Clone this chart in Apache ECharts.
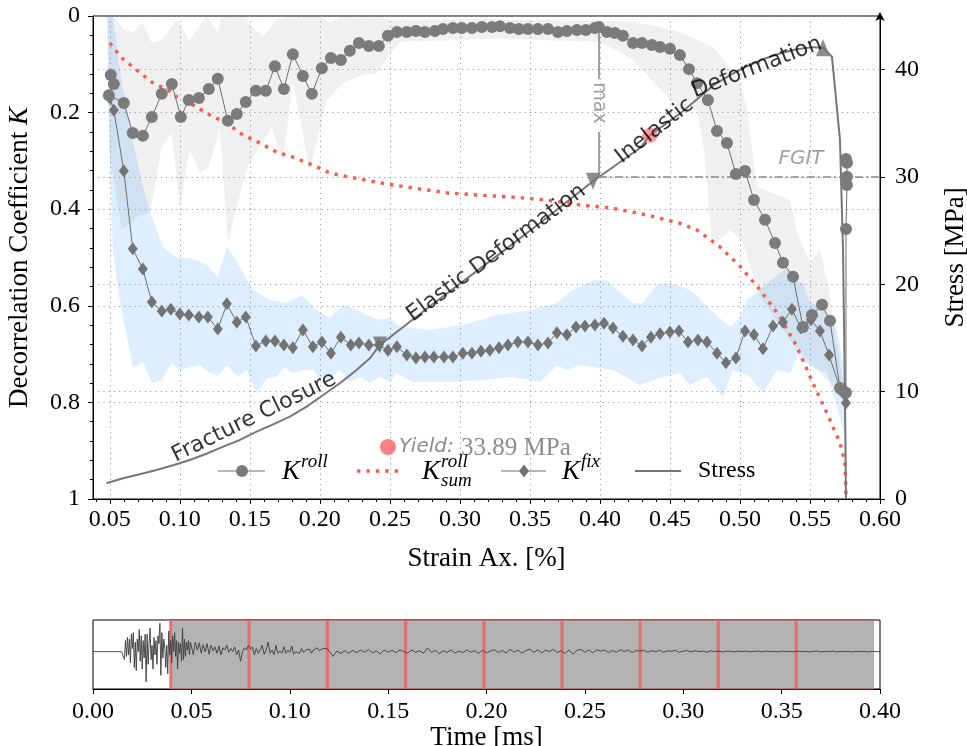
<!DOCTYPE html>
<html>
<head>
<meta charset="utf-8">
<script src="https://cdn.jsdelivr.net/npm/echarts@6/dist/echarts.min.js"></script>
<style>
  html, body { margin: 0; padding: 0; background: #fff; }
  #chart { width: 967px; height: 746px; }
</style>
</head>
<body>
<div id="chart"></div>
<script>
// ---------- K^roll (rolling-window decorrelation) ----------
const rollStrain = [
  0.0507,0.0529,0.0493,0.0600,0.0664,0.0736,0.0800,0.0871,0.0943,0.1007,
  0.1064,0.1136,0.1207,0.1271,0.1343,0.1407,0.1471,0.1543,0.1614,0.1679,
  0.1743,0.1807,0.1879,0.1943,0.2014,0.2079,0.2150,0.2214,0.2279,0.2350,
  0.2421,0.2486,0.2550,0.2621,0.2686,0.2750,0.2821,0.2879,0.2950,0.3014,
  0.3086,0.3157,0.3229,0.3286,0.3357,0.3421,0.3486,0.3557,0.3629,0.3700,
  0.3764,0.3836,0.3900,0.3964,0.3993,0.4050,0.4107,0.4164,0.4236,0.4300,
  0.4371,0.4429,0.4500,0.4571,0.4636,0.4693,0.4771,0.4836,0.4907,0.4971,
  0.5036,0.5100,0.5179,0.5250,0.5307,0.5379,0.5450,0.5514,0.5586,0.5643,
  0.5714,0.5736,0.5757,0.5757,0.5764,0.5764,0.5764,0.5757
];
const rollK = [
  0.122,0.141,0.164,0.180,0.242,0.248,0.209,0.161,0.141,0.209,
  0.174,0.170,0.151,0.130,0.217,0.203,0.178,0.155,0.155,0.104,
  0.151,0.079,0.124,0.161,0.108,0.087,0.091,0.072,0.056,0.062,
  0.062,0.041,0.033,0.033,0.031,0.033,0.031,0.027,0.025,0.025,
  0.025,0.023,0.023,0.021,0.025,0.027,0.027,0.027,0.027,0.033,
  0.031,0.029,0.029,0.025,0.023,0.033,0.035,0.041,0.056,0.056,
  0.060,0.064,0.068,0.081,0.110,0.139,0.174,0.238,0.263,0.327,
  0.321,0.381,0.422,0.470,0.511,0.540,0.644,0.619,0.598,0.631,
  0.770,0.776,0.780,0.441,0.350,0.333,0.304,0.296
];

// ---------- K^fix (fixed reference decorrelation) ----------
const fixStrain = [
  0.0500,0.0529,0.0600,0.0664,0.0736,0.0800,0.0871,0.0936,0.1000,0.1064,
  0.1136,0.1200,0.1271,0.1336,0.1407,0.1471,0.1543,0.1614,0.1679,0.1743,
  0.1807,0.1879,0.1950,0.2014,0.2079,0.2150,0.2221,0.2279,0.2350,0.2421,
  0.2486,0.2550,0.2621,0.2686,0.2750,0.2814,0.2886,0.2950,0.3021,0.3086,
  0.3150,0.3214,0.3279,0.3343,0.3414,0.3486,0.3557,0.3629,0.3693,0.3764,
  0.3829,0.3893,0.3964,0.4029,0.4093,0.4164,0.4236,0.4300,0.4364,0.4429,
  0.4500,0.4564,0.4629,0.4700,0.4764,0.4836,0.4900,0.4971,0.5036,0.5100,
  0.5164,0.5236,0.5307,0.5371,0.5436,0.5507,0.5571,0.5636,0.5714,0.5750,
  0.5757
];
const fixK = [
  0.170,0.195,0.321,0.482,0.524,0.592,0.611,0.607,0.617,0.619,
  0.623,0.623,0.648,0.596,0.634,0.623,0.683,0.673,0.673,0.681,
  0.687,0.650,0.685,0.675,0.698,0.665,0.681,0.677,0.681,0.681,
  0.692,0.685,0.702,0.708,0.706,0.706,0.706,0.706,0.698,0.698,
  0.694,0.692,0.687,0.681,0.675,0.675,0.681,0.677,0.656,0.660,
  0.644,0.642,0.640,0.636,0.646,0.663,0.671,0.683,0.665,0.658,
  0.654,0.652,0.675,0.671,0.675,0.698,0.718,0.708,0.652,0.660,
  0.689,0.642,0.634,0.607,0.646,0.629,0.652,0.702,0.770,0.785,
  0.801
];

// ---------- K_sum^roll (cumulative rolling decorrelation) ----------
const sumStrain = [
  0.0500,0.0586,0.0693,0.0800,0.0914,0.0971,0.1093,0.1214,0.1336,0.1450,
  0.1571,0.1693,0.1807,0.1943,0.2071,0.2200,0.2336,0.2479,0.2664,0.2907,
  0.3143,0.3379,0.3621,0.3857,0.4093,0.4336,0.4571,0.4693,0.4857,0.5000,
  0.5143,0.5286,0.5407,0.5521,0.5621,0.5714,0.5750,0.5757,0.5757
];
const sumK = [
  0.056,0.087,0.112,0.137,0.153,0.166,0.184,0.205,0.222,0.246,
  0.263,0.282,0.292,0.308,0.325,0.333,0.340,0.348,0.356,0.366,
  0.371,0.375,0.381,0.391,0.398,0.412,0.429,0.443,0.478,0.518,
  0.567,0.623,0.685,0.760,0.822,0.884,0.925,0.981,1.000
];

// ---------- axial stress vs. strain ----------
const stressStrain = [
  0.0476,0.0595,0.0714,0.0833,0.0952,0.1071,0.1190,0.1310,0.1429,0.1548,
  0.1667,0.1786,0.1905,0.2024,0.2143,0.2262,0.2357,0.2429,0.2800,0.3300,
  0.3600,0.3950,0.3993,0.4286,0.4357,0.4571,0.4689,0.4807,0.4929,0.5050,
  0.5168,0.5286,0.5404,0.5521,0.5593,0.5657,0.5714,0.5736,0.5750,0.5757
];
const stressMPa = [
  1.46,1.93,2.30,2.70,3.14,3.63,4.22,4.88,5.50,6.27,
  6.96,7.67,8.60,9.69,10.78,12.02,13.11,14.35,18.1,23.0,
  26.0,29.6,30.0,32.7,33.89,35.9,37.2,38.5,39.5,40.3,
  41.0,41.5,41.9,42.1,42.05,41.2,33.5,23.2,9.2,0
];

// stage boundaries on the stress curve (fracture closure, elastic, inelastic)
const stageStrain = [0.2429, 0.3950, 0.5593];
const stageStress = [14.35, 29.6, 42.05];

// yield point and FGIT level
const yieldStrain = 0.4357;
const yieldStress = 33.89;
const fgitStress = 30;
const peakKStrain = 0.3993;

// ---------- scatter bands (spread of K^roll and K^fix) ----------
const grayUpX = [
  0.0486,0.0536,0.0607,0.0664,0.0736,0.0800,0.0871,0.0979,0.1071,0.1193,
  0.1271,0.1300,0.1479,0.1486,0.1593,0.1693,0.1786,0.2000,0.2071,0.2164,
  0.2286,0.2407,0.2500,0.2714,0.3143,0.3571,0.4000,0.4236,0.4429,0.4571,
  0.4807,0.5000,0.5050,0.5121,0.5357,0.5407,0.5500,0.5571,0.5629,0.5714,
  0.5750
];
const grayUpK = [
  0.000,0.004,0.029,0.033,0.014,0.056,0.050,0.008,0.050,0.000,
  0.035,0.000,0.000,0.014,0.043,0.008,0.000,0.002,0.014,0.000,
  0.004,0.002,0.008,0.008,0.006,0.008,0.010,0.012,0.023,0.033,
  0.064,0.133,0.195,0.354,0.381,0.449,0.511,0.484,0.557,0.718,
  0.774
];
const grayLoX = [
  0.0493,0.0586,0.0714,0.0786,0.0871,0.0943,0.1000,0.1071,0.1143,0.1207,
  0.1286,0.1343,0.1479,0.1657,0.1736,0.1807,0.1929,0.2050,0.2164,0.2307,
  0.2407,0.2500,0.2571,0.2929,0.3286,0.3643,0.4000,0.4143,0.4236,0.4571,
  0.4693,0.4750,0.4800,0.4929,0.5021,0.5143,0.5193,0.5357,0.5500,0.5621,
  0.5714,0.5750
];
const grayLoK = [
  0.277,0.443,0.412,0.408,0.271,0.242,0.395,0.277,0.325,0.313,
  0.230,0.470,0.313,0.230,0.298,0.137,0.319,0.174,0.139,0.122,
  0.118,0.077,0.054,0.050,0.046,0.050,0.054,0.075,0.091,0.195,
  0.195,0.292,0.478,0.443,0.470,0.582,0.602,0.671,0.718,0.754,
  0.774,0.778
];
const blueUpX = [
  0.0479,0.0521,0.0586,0.0664,0.0736,0.0800,0.0879,0.0929,0.0979,0.1071,
  0.1200,0.1271,0.1336,0.1407,0.1521,0.1643,0.1764,0.1871,0.1979,0.2071,
  0.2164,0.2264,0.2407,0.2500,0.2571,0.2786,0.3021,0.3264,0.3500,0.3693,
  0.3807,0.3950,0.4050,0.4143,0.4236,0.4307,0.4407,0.4500,0.4643,0.4807,
  0.4929,0.4986,0.5050,0.5164,0.5286,0.5336,0.5379,0.5450,0.5500,0.5593,
  0.5693,0.5736,0.5764
];
const blueUpK = [
  0.000,0.002,0.139,0.257,0.354,0.416,0.478,0.491,0.499,0.501,
  0.516,0.542,0.478,0.509,0.567,0.588,0.594,0.578,0.609,0.625,
  0.598,0.609,0.629,0.625,0.644,0.650,0.640,0.619,0.609,0.594,
  0.567,0.547,0.547,0.573,0.594,0.594,0.557,0.553,0.567,0.613,
  0.644,0.629,0.588,0.561,0.532,0.522,0.547,0.553,0.594,0.602,
  0.650,0.718,0.913
];
const blueLoX = [
  0.0500,0.0521,0.0571,0.0664,0.0736,0.0800,0.0871,0.0943,0.1000,0.1071,
  0.1143,0.1200,0.1271,0.1336,0.1414,0.1479,0.1550,0.1621,0.1693,0.1750,
  0.1807,0.1879,0.1950,0.2021,0.2071,0.2143,0.2214,0.2286,0.2357,0.2429,
  0.2500,0.2550,0.2664,0.2907,0.3143,0.3379,0.3571,0.3693,0.3764,0.3857,
  0.4093,0.4286,0.4450,0.4571,0.4643,0.4764,0.4879,0.4950,0.5071,0.5164,
  0.5264,0.5357,0.5407,0.5521,0.5621,0.5714,0.5750
];
const blueLoK = [
  0.277,0.484,0.588,0.727,0.716,0.760,0.754,0.718,0.733,0.727,
  0.723,0.737,0.745,0.723,0.747,0.733,0.781,0.750,0.747,0.727,
  0.739,0.733,0.733,0.758,0.750,0.733,0.758,0.747,0.760,0.747,
  0.758,0.739,0.758,0.758,0.754,0.747,0.758,0.723,0.733,0.723,
  0.733,0.764,0.747,0.739,0.764,0.747,0.789,0.733,0.747,0.781,
  0.733,0.739,0.706,0.727,0.739,0.830,0.872
];

// ---------- tick labels ----------
const strainTicks = [0.05,0.10,0.15,0.20,0.25,0.30,0.35,0.40,0.45,0.50,0.55,0.60];
const strainMinorTicks = [
  0.04,0.06,0.07,0.08,0.09,0.11,0.12,0.13,0.14,0.16,0.17,0.18,0.19,
  0.21,0.22,0.23,0.24,0.26,0.27,0.28,0.29,0.31,0.32,0.33,0.34,
  0.36,0.37,0.38,0.39,0.41,0.42,0.43,0.44,0.46,0.47,0.48,0.49,
  0.51,0.52,0.53,0.54,0.56,0.57,0.58,0.59
];
const stressTicks = [0, 10, 20, 30, 40];

// ---------- ultrasonic waveform (relative amplitude) ----------
const waveQuietTime = [0.000, 0.0145];
const waveQuietAmp = [0, 0];
// 0.0150 .. 0.0495 ms, every 0.0005 ms
const waveDense = [
  0, 0.05, -0.25, 0.35, -0.15, 0.45, -0.1, 0.4, -0.35, 0.55,
  0.1, 0.6, -0.5, 0.3, -0.6, 0.4, 0.0, 0.7, -0.3, 0.5,
  -0.55, 0.35, -0.2, 0.55, -0.95, 0.55, -0.4, 0.25, 0.75, -0.25,
  0.2, -0.55, 0.45, -0.1, 0.35, -0.4, 0.5, 0.25, 0.9, -0.75,
  0.6, -0.2, 0.4, 0.1, -0.5, 0.2, -0.7, 0.65, -0.1, 0.35,
  -0.35, 0.5, 0.0, 0.6, -0.15, 0.35, -0.55, 0.3, -0.05, 0.25,
  -0.3, 0.74, -0.25, 0.4, -0.15, 0.3, 0.05, 0.35, -0.1, 0.3
];
// 0.050 .. 0.119 ms, every 0.001 ms
const waveMid = [
  0.25, -0.1, 0.3, 0.05, 0.28, -0.05, 0.22, 0.0, 0.25, -0.08,
  0.2, 0.02, 0.15, -0.05, 0.18, -0.1, 0.12, 0.05, 0.2, -0.02,
  0.1, 0.0, 0.15, -0.1, 0.05, -0.3, 0.0, 0.12, 0.05, 0.2,
  0.08, 0.15, -0.1, 0.1, -0.05, 0.05, 0.2, -0.08, 0.05, 0.3,
  -0.05, 0.05, -0.1, 0.2, -0.05, 0.02, -0.05, 0.15, -0.05, 0.05,
  -0.02, 0.18, -0.08, 0.0, 0.05, -0.05, 0.1, -0.02, 0.05, 0.0,
  0.08, -0.05, 0.05, 0.0, 0.12, 0.03, 0.08, 0.1, 0.05, 0.1
];
// 0.120 .. 0.400 ms, every 0.002 ms
const waveTail = [
  0.10, -0.15, 0.02, -0.06, 0.03, -0.05, 0.04, -0.03, 0.05, -0.02,
  0.06, -0.04, 0.02, -0.07, 0.05, -0.02, 0.04, -0.03, 0.06, 0.00,
  -0.04, 0.05, -0.02, 0.03, -0.05, 0.12, -0.03, 0.04, -0.06, 0.03,
  -0.02, 0.05, -0.04, 0.02, -0.03, 0.05, -0.02, 0.03, -0.05, 0.04,
  -0.03, 0.02, 0.06, -0.03, 0.04, -0.04, 0.07, -0.02, 0.05, -0.05,
  0.03, 0.08, -0.03, 0.06, -0.04, 0.05, 0.00, 0.07, -0.03, 0.03,
  -0.06, 0.05, -0.08, 0.04, 0.07, -0.02, 0.05, -0.04, 0.06, 0.02,
  0.05, -0.03, 0.04, -0.02, 0.06, 0.01, 0.05, -0.03, 0.03, 0.02,
  0.04, -0.02, 0.03, 0.00, 0.04, -0.02, 0.03, 0.01, 0.04, -0.02,
  0.02, 0.03, -0.01, 0.03, 0.00, 0.02, -0.02, 0.03, 0.00, 0.02,
  -0.01, 0.02, 0.01, -0.01, 0.02, 0.00, 0.02, -0.01, 0.01, 0.02,
  -0.01, 0.02, 0.00, 0.01, -0.01, 0.02, 0.00, 0.01, -0.01, 0.02,
  0.00, 0.01, -0.01, 0.01, 0.02, -0.01, 0.01, 0.00, 0.02, -0.01,
  0.01, 0.00, 0.01, -0.01, 0.01, 0.00, 0.01, -0.01, 0.01, 0.00,
  0.00
];

// analysis windows along the waveform [ms]
const windowStart = [0.0395, 0.0793, 0.1191, 0.1589, 0.1987, 0.2384, 0.2781, 0.3178, 0.3574];
const windowEnd   = [0.0793, 0.1191, 0.1589, 0.1987, 0.2384, 0.2781, 0.3178, 0.3574, 0.3970];

// ---------- helpers ----------
const SERIF = '"Liberation Serif", "Times New Roman", serif';
const SANS = '"DejaVu Sans", sans-serif';
const zip = (xs, ys) => xs.map((x, i) => [x, ys[i]]);
const sampled = (t0, dt, vals) => vals.map((v, i) => [+(t0 + i * dt).toFixed(5), v]);

const waveData = zip(waveQuietTime, waveQuietAmp)
  .concat(sampled(0.015, 0.0005, waveDense))
  .concat(sampled(0.050, 0.001, waveMid))
  .concat(sampled(0.120, 0.002, waveTail));

function bandRenderer(upX, upK, loX, loK, fill) {
  return function (params, api) {
    if (params.dataIndex !== 0) return null;
    const pts = [];
    for (let i = 0; i < upX.length; i++) pts.push(api.coord([upX[i], upK[i]]));
    for (let i = loX.length - 1; i >= 0; i--) pts.push(api.coord([loX[i], loK[i]]));
    return { type: 'polygon', shape: { points: pts }, style: { fill: fill } };
  };
}

const dotted = { color: '#9c9c9c', width: 1, type: [1.2, 4] };

// stage arrowheads: pointing down, down, up
const stageSymbolRotate = [180, 180, 0];

// text placed along the stress curve
const curveNotes = [
  { text: 'Fracture Closure',    at: [0.1530, 7.6],  rotate: 26 },
  { text: 'Elastic Deformation', at: [0.3260, 22.9], rotate: 36.5 },
  { text: 'Inelastic',           at: [0.4390, 34.3], rotate: 38 },
  { text: 'Deformation',         at: [0.5120, 40.2], rotate: 21 }
];

const chart = echarts.init(document.getElementById('chart'), null, { renderer: 'canvas' });

const L1 = 447, L2 = 471;
const legendKText = (x, sup, sub) => {
  const out = [
    { type: 'text', x: x, y: L2 + 1, z: 100, style: { text: 'K', font: 'italic 27px ' + SERIF, fill: '#000', align: 'left', verticalAlign: 'middle' } },
    { type: 'text', x: x + 19, y: L2 - 9, z: 100, style: { text: sup, font: 'italic 19px ' + SERIF, fill: '#000', align: 'left', verticalAlign: 'middle' } }
  ];
  if (sub) out.push({ type: 'text', x: x + 19, y: L2 + 10, z: 100, style: { text: sub, font: 'italic 19px ' + SERIF, fill: '#000', align: 'left', verticalAlign: 'middle' } });
  return out;
};

const option = {
  animation: false,
  backgroundColor: '#fff',
  grid: [
    { left: 93, right: 87, top: 16, height: 483, containLabel: false, outerBoundsMode: 'none',
      show: true, borderColor: '#000', borderWidth: 1, backgroundColor: 'transparent' },
    { left: 93, right: 87, top: 620, height: 69, containLabel: false, outerBoundsMode: 'none',
      show: true, borderColor: '#000', borderWidth: 1, backgroundColor: 'transparent' }
  ],
  xAxis: [
    {
      gridIndex: 0, type: 'value', min: 0.038, max: 0.6, position: 'bottom',
      name: 'Strain Ax. [%]', nameLocation: 'middle', nameGap: 46,
      nameTextStyle: { fontFamily: SERIF, fontSize: 27, color: '#000' },
      axisLine: { show: true, onZero: false, lineStyle: { color: '#000', width: 1 } },
      axisTick: { show: true, customValues: strainTicks, length: 5, lineStyle: { color: '#000' } },
      axisLabel: { customValues: strainTicks, formatter: v => v.toFixed(2), fontFamily: SERIF, fontSize: 24, color: '#000', margin: 9 },
      splitLine: { show: true, lineStyle: dotted }
    },
    {
      gridIndex: 0, type: 'value', min: 0.038, max: 0.6, position: 'top', offset: -483,
      axisLine: { show: false },
      axisTick: { show: true, customValues: strainMinorTicks, inside: true, length: 3, lineStyle: { color: '#000' } },
      axisLabel: { show: false },
      splitLine: { show: false }
    },
    {
      gridIndex: 1, type: 'value', min: 0, max: 0.4, interval: 0.05, position: 'bottom',
      name: 'Time [ms]', nameLocation: 'middle', nameGap: 24,
      nameTextStyle: { fontFamily: SERIF, fontSize: 27, color: '#000' },
      axisLine: { show: true, onZero: false, lineStyle: { color: '#000', width: 1 } },
      axisTick: { show: true, length: 5, lineStyle: { color: '#000' } },
      axisLabel: { formatter: v => v.toFixed(2), fontFamily: SERIF, fontSize: 24, color: '#000', margin: 11 },
      splitLine: { show: false }
    }
  ],
  yAxis: [
    {
      gridIndex: 0, type: 'value', min: 0, max: 1, interval: 0.2, inverse: true, position: 'left',
      name: '{t|Decorrelation Coefficient }{k|K}', nameLocation: 'middle', nameGap: 60, nameRotate: 90,
      nameTextStyle: {
        rich: {
          t: { fontFamily: SERIF, fontSize: 27, color: '#000' },
          k: { fontFamily: SERIF, fontSize: 27, fontStyle: 'italic', color: '#000' }
        }
      },
      axisLine: { show: true, onZero: false, lineStyle: { color: '#000', width: 1 } },
      axisTick: { show: true, length: 5, lineStyle: { color: '#000' } },
      minorTick: { show: true, splitNumber: 5, length: 3, lineStyle: { color: '#000' } },
      axisLabel: {
        formatter: v => (v === 0 || v === 1) ? String(v) : v.toFixed(1),
        fontFamily: SERIF, fontSize: 24, color: '#000', margin: 13
      },
      splitLine: { show: true, lineStyle: dotted }
    },
    {
      gridIndex: 0, type: 'value', min: 0, max: 45, position: 'right',
      name: 'Stress [MPa]', nameLocation: 'middle', nameGap: 62, nameRotate: 90,
      nameTextStyle: { fontFamily: SERIF, fontSize: 27, color: '#000' },
      axisLine: { show: true, onZero: false, lineStyle: { color: '#000', width: 1 }, symbol: ['none', 'arrow'], symbolSize: [7, 9], symbolOffset: [0, 4] },
      axisTick: { show: true, customValues: stressTicks, length: 5, lineStyle: { color: '#000' } },
      axisLabel: { customValues: stressTicks, fontFamily: SERIF, fontSize: 24, color: '#000', margin: 15 },
      splitLine: { show: true, lineStyle: dotted }
    },
    { gridIndex: 1, type: 'value', min: -1.18, max: 1, show: false }
  ],
  series: [
    {
      type: 'custom', name: 'K roll spread', xAxisIndex: 0, yAxisIndex: 0, silent: true, z: 1,
      renderItem: bandRenderer(grayUpX, grayUpK, grayLoX, grayLoK, 'rgba(140,140,140,0.13)'),
      data: [[grayUpX[0], grayUpK[0]]]
    },
    {
      type: 'custom', name: 'K fix spread', xAxisIndex: 0, yAxisIndex: 0, silent: true, z: 1,
      renderItem: bandRenderer(blueUpX, blueUpK, blueLoX, blueLoK, 'rgba(30,144,255,0.15)'),
      data: [[blueUpX[0], blueUpK[0]]]
    },
    {
      type: 'line', name: 'K sum roll', xAxisIndex: 0, yAxisIndex: 0, z: 3,
      data: zip(sumStrain, sumK), showSymbol: false, symbol: 'none',
      lineStyle: { color: '#fb5a4e', width: 3.4, type: [3.4, 6], cap: 'butt' }
    },
    {
      type: 'line', name: 'Stress', xAxisIndex: 0, yAxisIndex: 1, z: 3,
      data: zip(stressStrain, stressMPa), showSymbol: false, symbol: 'none',
      lineStyle: { color: '#777', width: 2, join: 'round' },
      markLine: {
        silent: true, symbol: 'none', label: { show: false },
        data: [
          [{ coord: [peakKStrain, fgitStress], lineStyle: { color: '#8a8a8a', width: 1.5, type: [8, 3, 2, 3] } },
           { coord: [0.6, fgitStress] }],
          [{ coord: [peakKStrain, 43.4], lineStyle: { color: '#808080', width: 1.5, type: 'solid' } },
           { coord: [peakKStrain, 39.1] }],
          [{ coord: [peakKStrain, 34.2], lineStyle: { color: '#808080', width: 1.5, type: 'solid' } },
           { coord: [peakKStrain, 29.9] }]
        ]
      }
    },
    {
      type: 'line', name: 'K fix', xAxisIndex: 0, yAxisIndex: 0, z: 4,
      data: zip(fixStrain, fixK), symbol: 'diamond', symbolSize: [10, 13], showSymbol: true,
      itemStyle: { color: '#737373' }, lineStyle: { color: '#6e6e6e', width: 1 }
    },
    {
      type: 'line', name: 'K roll', xAxisIndex: 0, yAxisIndex: 0, z: 5,
      data: zip(rollStrain, rollK), symbol: 'circle', symbolSize: 12, showSymbol: true,
      itemStyle: { color: '#7b7b7b' }, lineStyle: { color: '#6e6e6e', width: 1 }
    },
    {
      type: 'scatter', name: 'Stages', xAxisIndex: 0, yAxisIndex: 1, z: 6, silent: true,
      symbol: 'triangle', symbolSize: [14, 17], itemStyle: { color: '#707070' },
      data: stageStrain.map((s, i) => ({ value: [s, stageStress[i]], symbolRotate: stageSymbolRotate[i] }))
    },
    {
      type: 'scatter', name: 'Yield', xAxisIndex: 0, yAxisIndex: 1, z: 7, silent: true,
      symbolSize: 15, itemStyle: { color: 'rgba(250,95,95,0.78)' },
      data: [[yieldStrain, yieldStress]]
    },
    {
      type: 'scatter', name: 'Notes', xAxisIndex: 0, yAxisIndex: 1, z: 8, silent: true,
      symbolSize: 1, itemStyle: { color: 'transparent' },
      label: { show: true, position: 'inside', fontFamily: SANS, fontSize: 22, color: '#000' },
      data: curveNotes.map(n => ({ value: n.at, label: { formatter: n.text, rotate: n.rotate } })).concat([
        { value: [peakKStrain, 36.9], label: { formatter: 'max', rotate: -90, fontSize: 19, color: '#888' } },
        { value: [0.5436, 31.7], label: { formatter: 'FGIT', fontStyle: 'italic', fontSize: 20, color: '#888' } }
      ])
    },
    {
      type: 'custom', name: 'Windows', xAxisIndex: 2, yAxisIndex: 2, z: 2, silent: true,
      renderItem: function (params, api) {
        const a = api.coord([api.value(0), 1]);
        const b = api.coord([api.value(1), -1.18]);
        return {
          type: 'group',
          children: [
            { type: 'rect', shape: { x: a[0], y: a[1], width: b[0] - a[0], height: b[1] - a[1] }, style: { fill: '#b3b3b3' } },
            { type: 'line', shape: { x1: a[0], y1: a[1], x2: b[0], y2: a[1] }, style: { stroke: '#a83a3a', lineWidth: 1.2 } },
            { type: 'line', shape: { x1: a[0], y1: b[1], x2: b[0], y2: b[1] }, style: { stroke: '#a83a3a', lineWidth: 1.2 } },
            { type: 'line', shape: { x1: a[0], y1: a[1], x2: a[0], y2: b[1] }, style: { stroke: 'rgba(236,95,95,0.85)', lineWidth: 3 } }
          ]
        };
      },
      data: windowStart.map((s, i) => [s, windowEnd[i]])
    },
    {
      type: 'line', name: 'Waveform', xAxisIndex: 2, yAxisIndex: 2, z: 5,
      data: waveData, showSymbol: false, symbol: 'none',
      lineStyle: { color: '#3c3c3c', width: 0.9 }
    }
  ],
  graphic: [
    // first legend row: yield point
    { type: 'circle', z: 100, shape: { cx: 388, cy: L1, r: 8 }, style: { fill: 'rgba(250,95,95,0.78)' } },
    { type: 'text', x: 399, y: L1, z: 100, style: { text: 'Yield:', font: 'italic 20px ' + SANS, fill: '#8c8c8c', align: 'left', verticalAlign: 'middle' } },
    { type: 'text', x: 461, y: L1 + 1, z: 100, style: { text: yieldStress.toFixed(2) + ' MPa', font: '25px ' + SERIF, fill: '#8c8c8c', align: 'left', verticalAlign: 'middle' } },
    // K roll
    { type: 'line', z: 100, shape: { x1: 218, y1: L2, x2: 265, y2: L2 }, style: { stroke: '#6e6e6e', lineWidth: 1 } },
    { type: 'circle', z: 100, shape: { cx: 242, cy: L2, r: 6 }, style: { fill: '#7b7b7b' } },
    ...legendKText(282, 'roll'),
    // K sum roll
    { type: 'line', z: 100, shape: { x1: 357, y1: L2, x2: 401, y2: L2 }, style: { stroke: '#fb5a4e', lineWidth: 3.4, lineDash: [3.4, 6] } },
    ...legendKText(422, 'roll', 'sum'),
    // K fix
    { type: 'line', z: 100, shape: { x1: 501, y1: L2, x2: 546, y2: L2 }, style: { stroke: '#6e6e6e', lineWidth: 1 } },
    { type: 'polygon', z: 100, shape: { points: [[524, L2 - 6.5], [529, L2], [524, L2 + 6.5], [519, L2]] }, style: { fill: '#737373' } },
    ...legendKText(562, 'fix'),
    // stress
    { type: 'line', z: 100, shape: { x1: 635, y1: L2, x2: 681, y2: L2 }, style: { stroke: '#777', lineWidth: 2 } },
    { type: 'text', x: 698, y: L2, z: 100, style: { text: 'Stress', font: '24px ' + SERIF, fill: '#000', align: 'left', verticalAlign: 'middle' } }
  ]
};

chart.setOption(option);
</script>
</body>
</html>
